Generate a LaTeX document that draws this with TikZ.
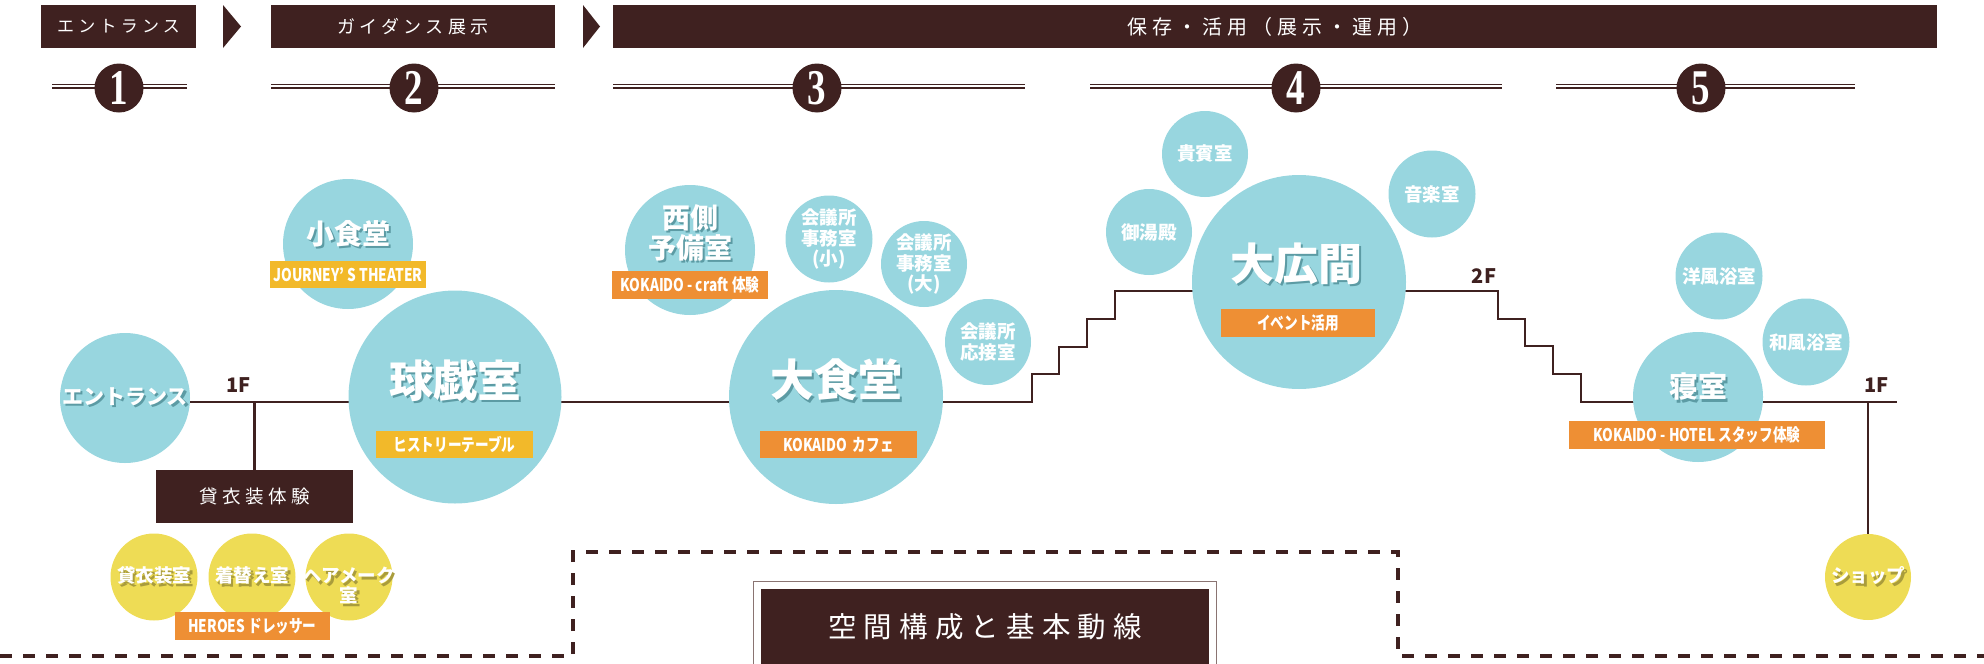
\documentclass[tikz,border=0pt]{standalone}
\usepackage{fontspec}
\setmainfont{Noto Sans CJK JP}
\newfontfamily\hdfont{Noto Sans CJK JP}[LetterSpace=25]
\newfontfamily\lblfont{Noto Sans CJK JP}[FakeStretch=0.78]
\newfontfamily\numfont{Liberation Serif}[FakeStretch=0.74]
\usepackage{tikz}
\usetikzlibrary{backgrounds}
\definecolor{kdbrown}{HTML}{3F2120}
\definecolor{roomblue}{HTML}{98D6DF}
\definecolor{roomyellow}{HTML}{EEDC55}
\definecolor{tagyellow}{HTML}{F2B92A}
\definecolor{tagorange}{HTML}{EE8F34}
\definecolor{shblue}{HTML}{5C9BA4}
\definecolor{shyellow}{HTML}{A99C3C}
\definecolor{framegray}{HTML}{8A7472}

% white room names with a drop shadow
\newcommand\shd[2][shblue]{\leavevmode\rlap{\kern2.5pt\raisebox{-2.5pt}{\textcolor{#1}{#2}}}#2}

\tikzset{
  room/.style={circle, fill=roomblue, inner sep=0pt, text=white, align=center,
    font=\bfseries\fontsize{18.5}{20.5}\selectfont},
  guest/.style={circle, fill=roomyellow, inner sep=0pt, minimum size=87pt, text=white,
    align=center, font=\bfseries\fontsize{18.5}{20}\selectfont},
  roomname/.style={text=white, inner sep=0pt, align=center},
  badge/.style={fill=#1, text=white, minimum height=27.5pt, inner sep=0pt,
    font=\lblfont\bfseries\fontsize{17.5}{20}\selectfont},
  hdbox/.style={fill=kdbrown, text=white, minimum height=43pt, inner sep=0pt,
    font=\hdfont\fontsize{17}{20}\selectfont},
  stepnum/.style={circle, fill=kdbrown, text=white, minimum size=49pt, inner sep=0pt,
    font=\numfont\bfseries\fontsize{50}{50}\selectfont},
  floor/.style={text=kdbrown, inner sep=0pt, font=\bfseries\fontsize{20}{20}\selectfont},
  flow/.style={kdbrown, line width=2.2pt},
}

\begin{document}
\begin{tikzpicture}[x=1pt, y=-1pt]
  \useasboundingbox (0,0) rectangle (1984,664);

  % ── Header bar ──
  \node[hdbox, minimum width=155pt] (hd1) at (118.5,26.5) {エントランス};
  \node[hdbox, minimum width=284pt, font=\hdfont\fontsize{18}{20}\selectfont] (hd2) at (413,26.5) {ガイダンス展示};
  \node[hdbox, minimum width=1324pt, font=\hdfont\fontsize{20}{22}\selectfont] (hd3) at (1275,26.5) {保存・活用（展示・運用）};
  \fill[kdbrown] (223,5) -- (241,26.5) -- (223,48) -- cycle;
  \fill[kdbrown] (583,5) -- (600,26.5) -- (583,48) -- cycle;

  % ── Step numbers ──
  \foreach \a/\b in {52/187, 271/555, 613/1025, 1090/1502, 1556/1855} {
    \draw[kdbrown, line width=1.3pt] (\a,84.4) -- (\b,84.4);
    \draw[kdbrown, line width=2pt] (\a,88.3) -- (\b,88.3);
  }
  \foreach \n/\x in {1/119, 2/414, 3/817, 4/1296, 5/1701}
    \node[stepnum] (n\n) at (\x,88) {\n};

  % ── Entrance and guidance ──
  \node[room, minimum size=130pt, font=\bfseries\fontsize{21}{21}\selectfont] (entr) at (125,398) {\shd{エントランス}};
  \node[room, minimum size=130pt] (shoku) at (348,244) {};
  \node[roomname, font=\bfseries\fontsize{28}{30}\selectfont] (shoku-t) at (348,235) {\shd{小食堂}};
  \node[badge=tagyellow, minimum width=156pt] (shoku-b) at (348,274.5) {JOURNEY’ S THEATER};
  \node[room, minimum size=213pt] (kyugi) at (455,397) {};
  \node[roomname, font=\bfseries\fontsize{44}{46}\selectfont] (kyugi-t) at (455,382) {\shd{球戯室}};
  \node[badge=tagyellow, minimum width=157pt] (kyugi-b) at (454.5,444.5) {ヒストリーテーブル};
  \node[floor] (f1w) at (238.5,385) {1F};

  % costume rental
  \node[fill=kdbrown, text=white, minimum width=197pt, minimum height=53pt, inner sep=0pt,
    font=\hdfont\fontsize{18.5}{20}\selectfont] (kasui) at (254.5,496.5) {貸衣装体験};
  \node[guest] (ishou) at (154,577) {\shd[shyellow]{貸衣装室}};
  \node[guest] (kigae) at (252,577) {\shd[shyellow]{着替え室}};
  \node[guest] (hair) at (349,577) {};
  \node[roomname, font=\bfseries\fontsize{18.5}{20}\selectfont] (hair-t) at (349,587) {\shd[shyellow]{ヘアメーク}\\\shd[shyellow]{室}};
  \node[badge=tagorange, minimum width=155pt] (dress-b) at (252.5,626) {HEROES ドレッサー};

  % ── Dining rooms ──
  \node[room, minimum size=130pt] (yobi) at (690,250) {};
  \node[roomname, font=\bfseries\fontsize{28}{30}\selectfont] (yobi-t) at (690,234) {\shd{西側}\\\shd{予備室}};
  \node[badge=tagorange, minimum width=156pt] (yobi-b) at (690,285) {KOKAIDO - craft 体験};
  \node[room, minimum size=87pt] (jimu-s) at (829,239) {会議所\\事務室\\(小)};
  \node[room, minimum size=86pt] (jimu-l) at (924,264) {会議所\\事務室\\(大)};
  \node[room, minimum size=86pt] (ousetsu) at (988,342) {会議所\\応接室};
  \node[room, minimum size=214pt] (dshoku) at (836,397) {};
  \node[roomname, font=\bfseries\fontsize{44}{46}\selectfont] (dshoku-t) at (836,381) {\shd{大食堂}};
  \node[badge=tagorange, minimum width=157pt] (dshoku-b) at (838.5,444.5) {KOKAIDO\hspace{6pt}カフェ};

  % ── 2F ──
  \node[room, minimum size=86pt] (kihin) at (1205,154) {貴賓室};
  \node[room, minimum size=86pt] (oyu) at (1149,232) {御湯殿};
  \node[room, minimum size=87pt] (ongaku) at (1432,194) {音楽室};
  \node[room, minimum size=214pt] (hiroma) at (1299,282) {};
  \node[roomname, font=\bfseries\fontsize{44}{46}\selectfont] (hiroma-t) at (1296,265) {\shd{大広間}};
  \node[badge=tagorange, minimum width=154pt] (hiroma-b) at (1298,323) {イベント活用};
  \node[floor] (f2) at (1484,276) {2F};

  % ── Bedroom and shop ──
  \node[room, minimum size=87pt] (youfu) at (1719,276) {洋風浴室};
  \node[room, minimum size=87pt] (wafu) at (1806,342) {和風浴室};
  \node[room, minimum size=130pt] (shin) at (1698,397) {};
  \node[roomname, font=\bfseries\fontsize{29}{30}\selectfont] (shin-t) at (1698,388) {\shd{寝室}};
  \node[badge=tagorange, minimum width=256pt] (shin-b) at (1697,435) {KOKAIDO - HOTEL スタッフ体験};
  \node[floor] (f1e) at (1876.5,385) {1F};
  \node[guest, minimum size=86pt] (shop) at (1868,577) {\shd[shyellow]{ショップ}};

  % ── Route ──
  \coordinate (j1) at (254.5,402);
  \coordinate (stL) at (1032,402);
  \coordinate (stR) at (1498,291);
  \coordinate (j2) at (1868,402);
  \coordinate (jend) at (1897,402);
  \begin{scope}[on background layer]
    \draw[flow] (entr |- j1) -- (j1) -- (kyugi |- j1) -- (dshoku |- j1) -- (stL)
      -- ++(0,-28) -- ++(27,0) -- ++(0,-27) -- ++(28,0) -- ++(0,-28) -- ++(28,0) -- ++(0,-28)
      -- (hiroma |- stR) -- (stR)
      -- ++(0,28) -- ++(27,0) -- ++(0,27) -- ++(28,0) -- ++(0,28) -- ++(28,0) -- ++(0,28)
      -- (shin |- j2) -- (j2) -- (jend);
    \draw[flow] (j1) -- (kasui);
    \draw[flow] (j2) -- (shop);
  \end{scope}

  % ── Caption ──
  \draw[kdbrown, line width=3.5pt, dash pattern=on 12pt off 11pt]
    (0,656) -- (573,656) -- (573,552) -- (1398,552) -- (1398,656) -- (1984,656);
  \node[fill=kdbrown, text=white, minimum width=448pt, minimum height=76pt, inner sep=0pt,
    font=\hdfont\fontsize{28.5}{30}\selectfont] (title) at (985,627) {空間構成と基本動線};
  \draw[framegray, line width=1pt] ([shift={(-7pt,7pt)}]title.north west)
    rectangle ([shift={(7pt,-7pt)}]title.south east);
\end{tikzpicture}
\end{document}
